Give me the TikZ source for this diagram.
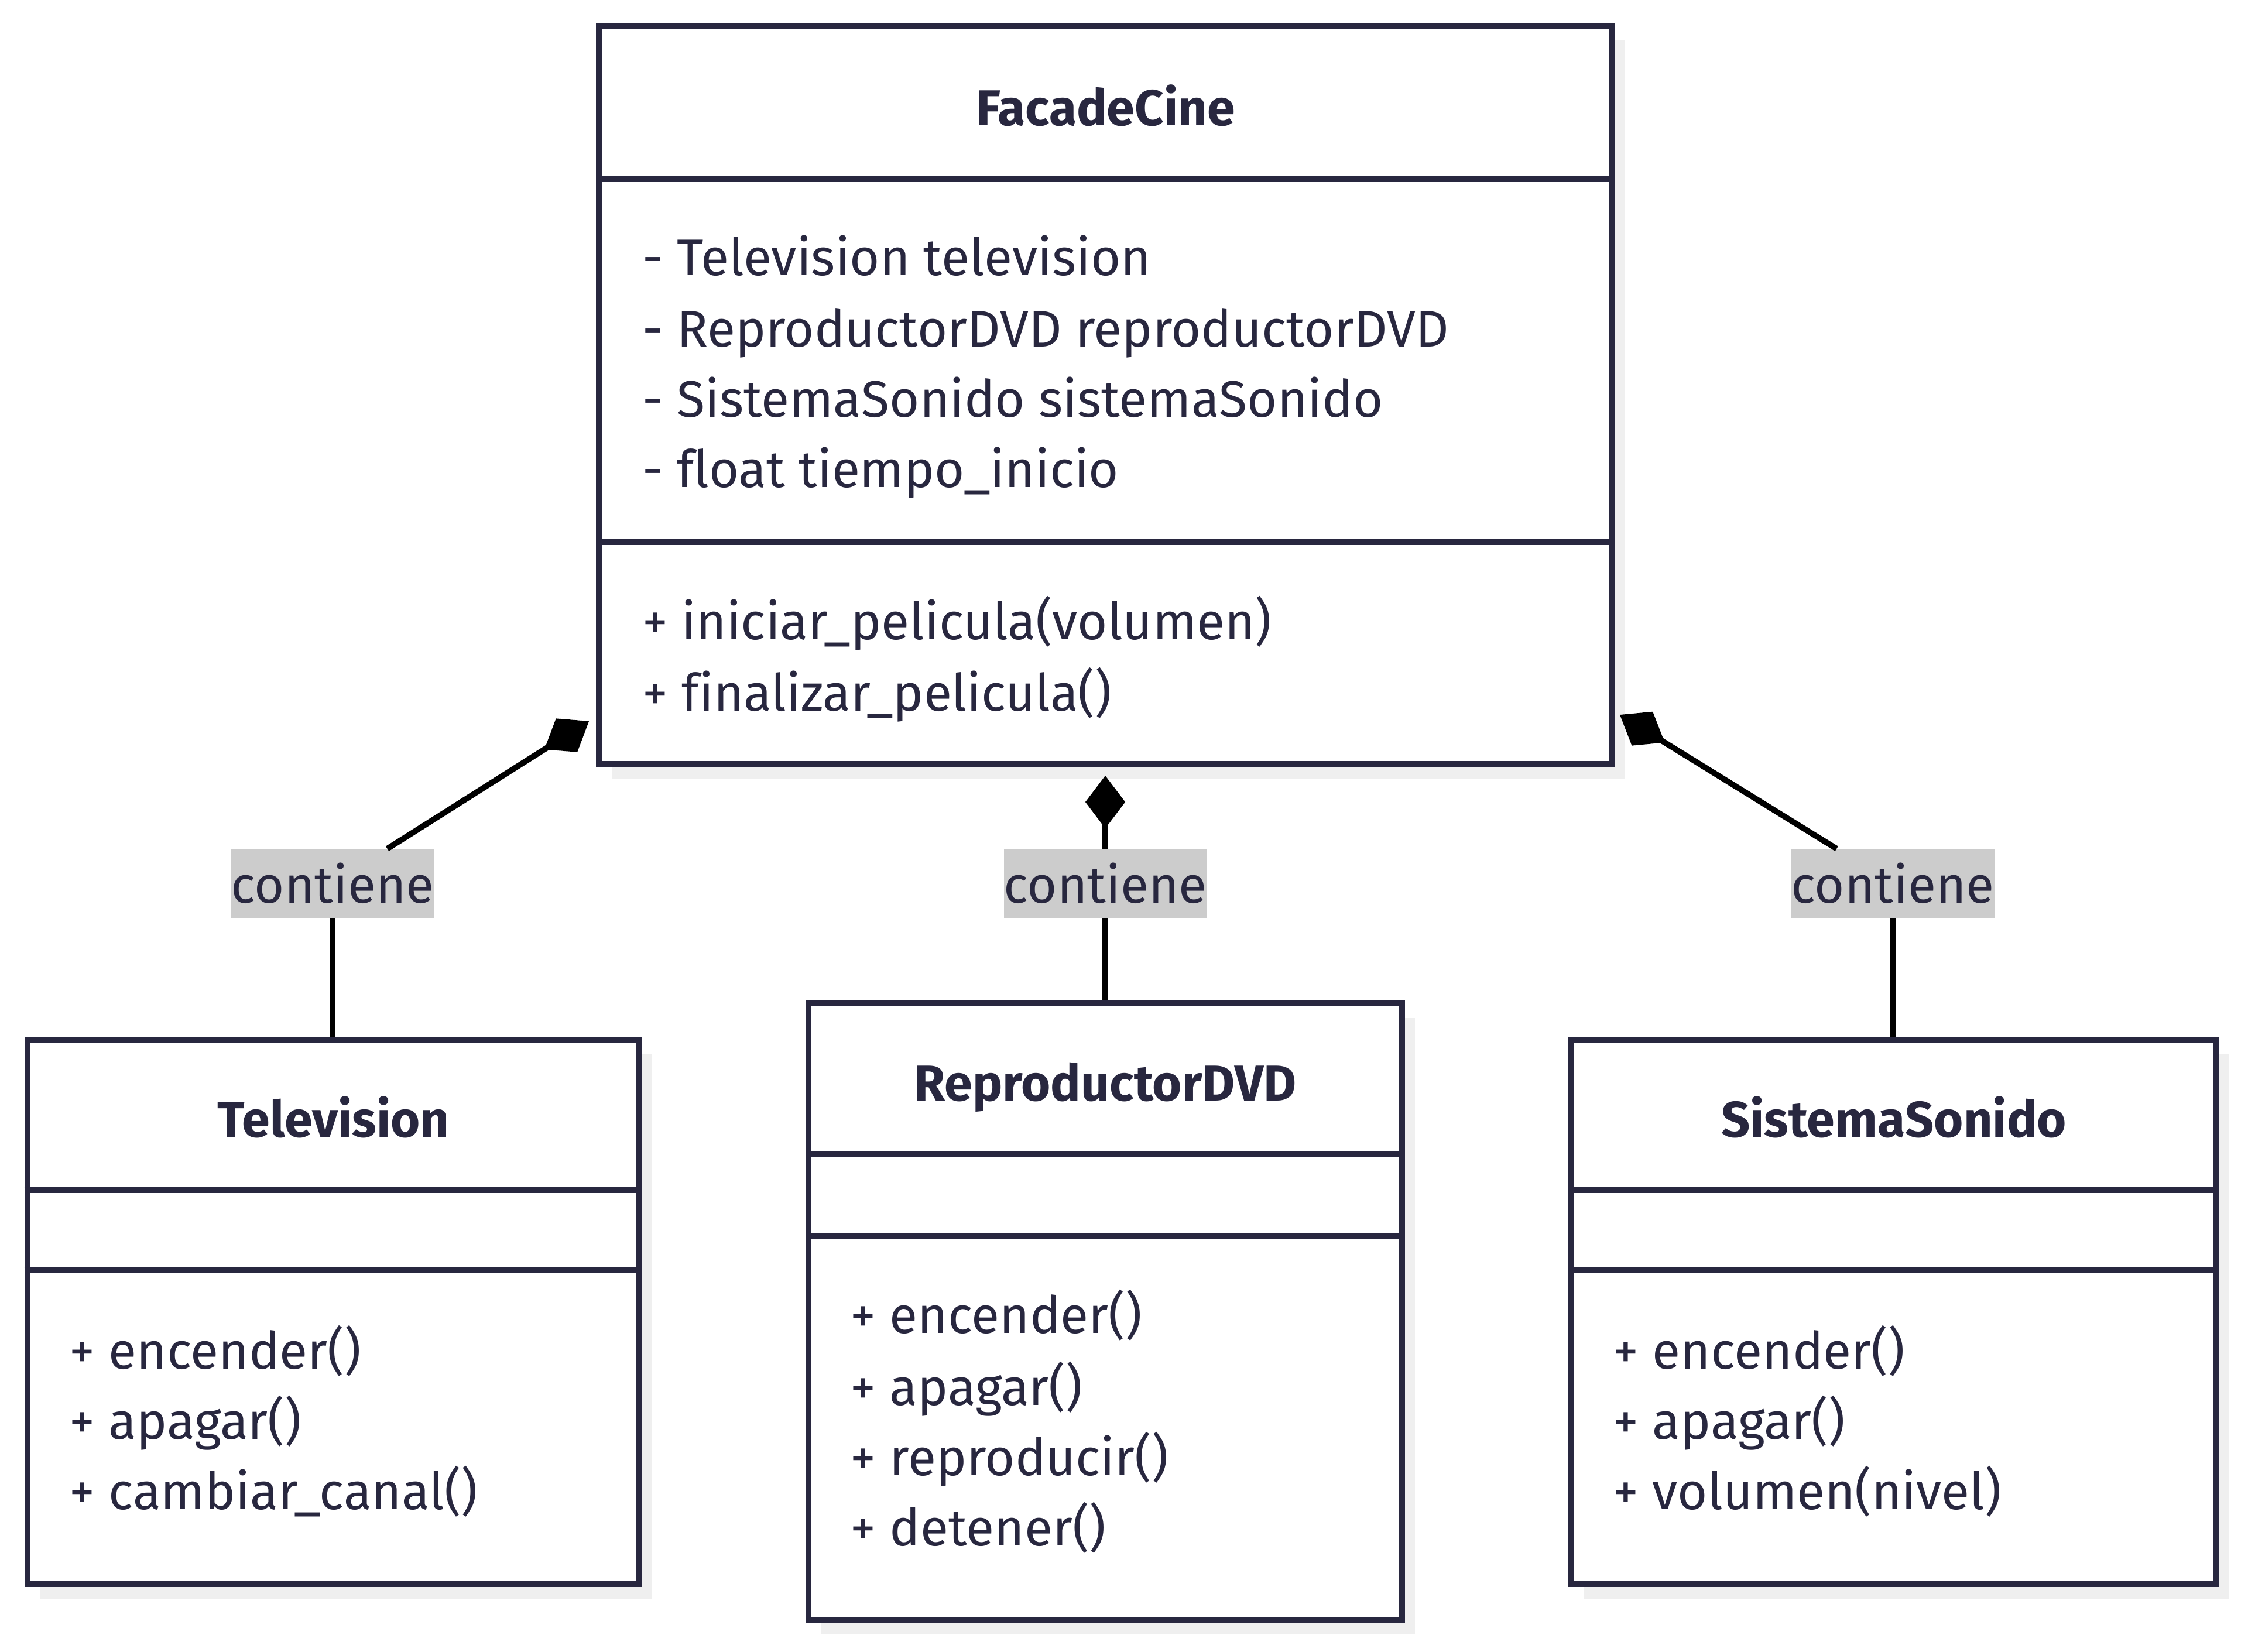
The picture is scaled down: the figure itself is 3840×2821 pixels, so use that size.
\documentclass[tikz,border=0pt]{standalone}
\usepackage{fontspec}
\setmainfont{Fira Sans}[Ligatures=NoCommon]
\usetikzlibrary{arrows.meta,shadows}
\definecolor{ink}{HTML}{28273F}
\definecolor{shadowgray}{HTML}{EFEFEF}
\definecolor{lblgray}{HTML}{CCCCCC}
\tikzset{
  classbox/.style={draw=ink, line width=2.9pt, fill=white, inner sep=0pt,
    drop shadow={shadow xshift=0.22cm, shadow yshift=-0.25cm, fill=shadowgray, opacity=1}},
  classline/.style={draw=ink, line width=2.9pt},
  titletext/.style={text=ink, font=\fontsize{24.5}{30}\selectfont\bfseries, inner sep=0pt},
  member/.style={text=ink, font=\fontsize{25}{30}\selectfont, anchor=mid west, inner sep=0pt},
  lbl/.style={fill=lblgray, text=ink, font=\fontsize{25}{30}\selectfont, inner sep=0pt,
    minimum width=3.43cm, minimum height=1.17cm},
  conn/.style={draw=black, line width=2.8pt},
  compo/.style={conn, {Diamond[length=0.9cm 0, width=0.68cm 0]}-}
}
\begin{document}
\begin{tikzpicture}[x=0.01cm, y=-0.01cm]
\useasboundingbox (0,0) rectangle (3840,2821);
% FacadeCine
\node[classbox, minimum width=17.29cm, minimum height=12.61cm] (facade) at (1888.5,674.5) {};
\draw[classline] (facade.west |- 0,306) -- (facade.east |- 0,306);
\draw[classline] (facade.west |- 0,926) -- (facade.east |- 0,926);
\node[titletext] (facadetitle) at (1888.5,180) {FacadeCine};
\node[member] (fa1) at (1097,461) {- Television television};
\node[member] (fa2) at (1097,583) {- ReproductorDVD reproductorDVD};
\node[member] (fa3) at (1097,703) {- SistemaSonido sistemaSonido};
\node[member] (fa4) at (1097,823) {- float tiempo\_inicio};
\node[member] (fm1) at (1097,1083) {+ iniciar\_pelicula(volumen)};
\node[member] (fm2) at (1097,1205) {+ finalizar\_pelicula()};
% Television
\node[classbox, minimum width=10.45cm, minimum height=9.30cm] (tv) at (569.5,2241) {};
\draw[classline] (tv.west |- 0,2033) -- (tv.east |- 0,2033);
\draw[classline] (tv.west |- 0,2170) -- (tv.east |- 0,2170);
\node[titletext] (tvtitle) at (569.5,1908) {Television};
\node[member] (tv1) at (118,2329) {+ encender()};
\node[member] (tv2) at (118,2449) {+ apagar()};
\node[member] (tv3) at (118,2569) {+ cambiar\_canal()};
% ReproductorDVD
\node[classbox, minimum width=10.14cm, minimum height=10.53cm] (dvd) at (1888,2240.5) {};
\draw[classline] (dvd.west |- 0,1971) -- (dvd.east |- 0,1971);
\draw[classline] (dvd.west |- 0,2111) -- (dvd.east |- 0,2111);
\node[titletext] (dvdtitle) at (1888,1857) {ReproductorDVD};
\node[member] (dv1) at (1452,2268) {+ encender()};
\node[member] (dv2) at (1452,2391) {+ apagar()};
\node[member] (dv3) at (1452,2511) {+ reproducir()};
\node[member] (dv4) at (1452,2631) {+ detener()};
% SistemaSonido
\node[classbox, minimum width=11.02cm, minimum height=9.30cm] (snd) at (3235,2241) {};
\draw[classline] (snd.west |- 0,2033) -- (snd.east |- 0,2033);
\draw[classline] (snd.west |- 0,2170) -- (snd.east |- 0,2170);
\node[titletext] (sndtitle) at (3235,1908) {SistemaSonido};
\node[member] (sn1) at (2755,2329) {+ encender()};
\node[member] (sn2) at (2755,2449) {+ apagar()};
\node[member] (sn3) at (2755,2569) {+ volumen(nivel)};
% connectors
\coordinate (tiptv) at (1006,1232);
\coordinate (tipdvd) at (1888,1325);
\coordinate (tipsnd) at (2767,1221);
\node[lbl] (ltv) at (568,1509) {contiene};
\node[lbl] (ldvd) at (1888,1509) {contiene};
\node[lbl] (lsnd) at (3233,1509) {contiene};
\draw[compo] (tiptv) -- (ltv);
\draw[conn] (ltv) -- (ltv.south |- tv.north);
\draw[compo] (tipdvd) -- (ldvd);
\draw[conn] (ldvd) -- (ldvd.south |- dvd.north);
\draw[compo] (tipsnd) -- (lsnd);
\draw[conn] (lsnd) -- (lsnd.south |- snd.north);
\end{tikzpicture}
\end{document}
